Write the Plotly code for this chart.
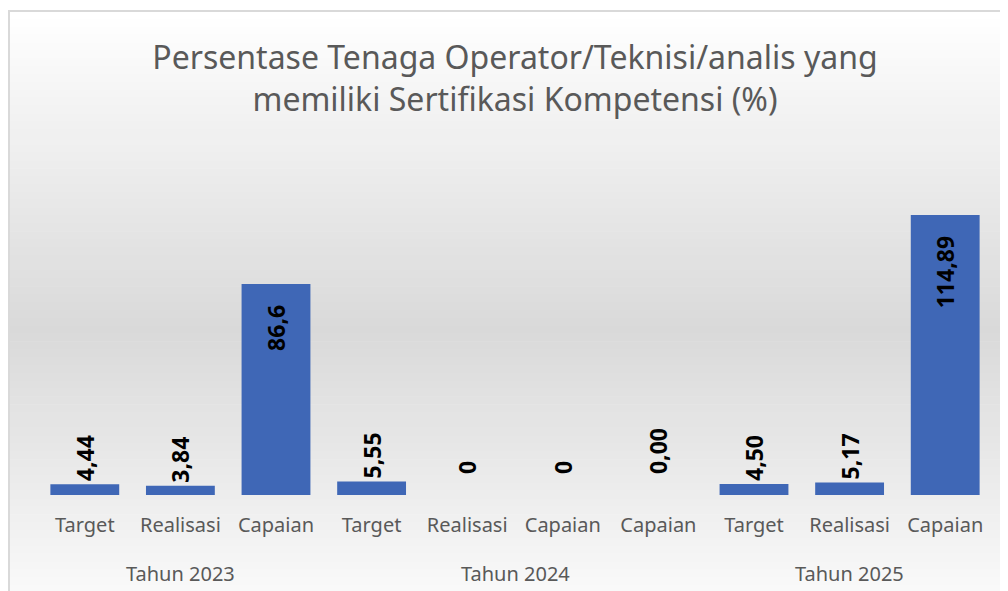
import plotly.graph_objects as go

# ---- data ----
categories = ["Target", "Realisasi", "Capaian", "Target", "Realisasi",
              "Capaian", "Capaian", "Target", "Realisasi", "Capaian"]
groups = ["Tahun 2023", "Tahun 2024", "Tahun 2025"]
group_sizes = [3, 4, 3]
values = [4.44, 3.84, 86.6, 5.55, 0, 0, 0.00, 4.50, 5.17, 114.89]
labels = ["4,44", "3,84", "86,6", "5,55", "0", "0", "0,00", "4,50", "5,17", "114,89"]

title_text = "Persentase Tenaga Operator/Teknisi/analis yang<br>memiliki Sertifikasi Kompetensi (%)"

# ---- layout geometry (page pixels; the page body adds an 8px offset) ----
OFF = 8
W, H = 1008, 591
FW, FH = W - OFF, H - OFF
L, R, T, B = 37, 993, 150, 495
YMAX = (B - T) / 2.437

def px_x(px):
    return (px - L) / (R - L)

def px_y(py):
    return (B - py) / (B - T)

FONT = "Noto Sans"
GRAY = "#595959"
BAR = "#3f67b6"
PAD = "\u00a0\u00a0\u00a0"

xs = list(range(len(categories)))
positions = ["inside" if v > 50 else "outside" for v in values]
shown = []
for s, p, v in zip(labels, positions, values):
    if p == "inside":
        shown.append(s + PAD)          # push label down from the bar top
    elif v == 0:
        shown.append(PAD + s)          # lift label of empty bars
    else:
        shown.append(s)

lab_font = dict(family=FONT, size=23, color="black", weight="bold")
fig = go.Figure()
fig.add_trace(go.Bar(
    x=xs, y=values, text=shown, textposition=positions,
    textangle=-90, insidetextanchor="end",
    textfont=lab_font, insidetextfont=lab_font, outsidetextfont=lab_font,
    marker=dict(color=BAR, line=dict(width=0)),
    cliponaxis=False, hoverinfo="skip",
))

# background vertical gradient (white -> gray -> white)
shapes = []
top_px, mid_px, bot_px = 11, 330, 640
c_top, c_mid, c_bot = 255, 217, 255
nb = 80
for i in range(nb):
    y0 = top_px + (bot_px - top_px) * i / nb
    y1 = top_px + (bot_px - top_px) * (i + 1) / nb
    yc = (y0 + y1) / 2
    if yc <= mid_px:
        t = (yc - top_px) / (mid_px - top_px)
        c = c_top + (c_mid - c_top) * t
    else:
        t = (yc - mid_px) / (bot_px - mid_px)
        c = c_mid + (c_bot - c_mid) * t
    c = int(round(c))
    shapes.append(dict(type="rect", xref="paper", yref="paper", layer="below",
                       x0=px_x(9), x1=px_x(W + 20), y0=px_y(y1 + 0.6), y1=px_y(y0),
                       fillcolor=f"rgb({c},{c},{c})", line=dict(width=0)))
shapes.append(dict(type="rect", xref="paper", yref="paper", layer="below",
                   x0=px_x(9), x1=px_x(W + 20), y0=px_y(H + 20), y1=px_y(11),
                   fillcolor="rgba(0,0,0,0)", line=dict(color="#d9d9d9", width=2)))

# group labels
annotations = []
start = 0
for g, n in zip(groups, group_sizes):
    center = start + (n - 1) / 2
    annotations.append(dict(x=center, xref="x", y=px_y(573), yref="paper",
                            text=g, showarrow=False, yanchor="middle",
                            font=dict(family=FONT, size=20, color=GRAY)))
    start += n

fig.update_layout(
    width=FW, height=FH,
    margin=dict(l=L - OFF, r=W - R, t=T - OFF, b=H - B),
    paper_bgcolor="white", plot_bgcolor="rgba(0,0,0,0)",
    title=dict(text=title_text, x=0.5, xanchor="center", xref="paper",
               y=1 - (69 - OFF) / FH, yanchor="middle",
               font=dict(family=FONT, size=32, color=GRAY)),
    bargap=0.28, showlegend=False,
    shapes=shapes, annotations=annotations,
    xaxis=dict(tickmode="array", tickvals=xs, ticktext=categories,
               range=[-0.5, len(categories) - 0.5], showgrid=False, zeroline=False,
               showline=False, ticks="", ticklabelstandoff=16,
               tickfont=dict(family=FONT, size=20, color=GRAY)),
    yaxis=dict(range=[0, YMAX], visible=False, showgrid=False, zeroline=False),
)

fig.write_html("out.html")
